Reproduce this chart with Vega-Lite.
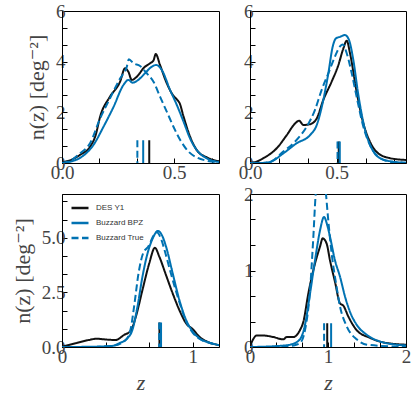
{
  "$schema": "https://vega.github.io/schema/vega-lite/v6.json",
  "padding": {"left": 10, "top": 1, "right": 0, "bottom": 0},
  "columns": 2,
  "spacing": 31,
  "bounds": "flush",
  "resolve": {"scale": {"color": "independent", "strokeDash": "independent", "x": "independent", "y": "independent"}},
  "datasets": {
    "curves": [
      {"panel":"a","series":"DES Y1","z":0,"n":0.03},{"panel":"a","series":"DES Y1","z":0.04,"n":0.12},{"panel":"a","series":"DES Y1","z":0.08,"n":0.32},{"panel":"a","series":"DES Y1","z":0.125,"n":0.64},{"panel":"a","series":"DES Y1","z":0.15,"n":1.1},{"panel":"a","series":"DES Y1","z":0.17,"n":1.83},{"panel":"a","series":"DES Y1","z":0.214,"n":2.62},{"panel":"a","series":"DES Y1","z":0.259,"n":3.21},{"panel":"a","series":"DES Y1","z":0.281,"n":3.74},{"panel":"a","series":"DES Y1","z":0.296,"n":3.6},{"panel":"a","series":"DES Y1","z":0.311,"n":3.28},{"panel":"a","series":"DES Y1","z":0.34,"n":3.47},{"panel":"a","series":"DES Y1","z":0.363,"n":3.74},{"panel":"a","series":"DES Y1","z":0.393,"n":3.94},{"panel":"a","series":"DES Y1","z":0.408,"n":4.05},{"panel":"a","series":"DES Y1","z":0.418,"n":4.3},{"panel":"a","series":"DES Y1","z":0.437,"n":3.87},{"panel":"a","series":"DES Y1","z":0.467,"n":3.15},{"panel":"a","series":"DES Y1","z":0.497,"n":2.65},{"panel":"a","series":"DES Y1","z":0.512,"n":2.51},{"panel":"a","series":"DES Y1","z":0.525,"n":2.35},{"panel":"a","series":"DES Y1","z":0.542,"n":1.83},{"panel":"a","series":"DES Y1","z":0.571,"n":1.04},{"panel":"a","series":"DES Y1","z":0.601,"n":0.51},{"panel":"a","series":"DES Y1","z":0.646,"n":0.22},{"panel":"a","series":"DES Y1","z":0.7,"n":0.07},
      {"panel":"a","series":"Buzzard BPZ","z":0,"n":0},{"panel":"a","series":"Buzzard BPZ","z":0.04,"n":0.06},{"panel":"a","series":"Buzzard BPZ","z":0.08,"n":0.2},{"panel":"a","series":"Buzzard BPZ","z":0.14,"n":0.71},{"panel":"a","series":"Buzzard BPZ","z":0.185,"n":1.43},{"panel":"a","series":"Buzzard BPZ","z":0.229,"n":2.2},{"panel":"a","series":"Buzzard BPZ","z":0.274,"n":3.08},{"panel":"a","series":"Buzzard BPZ","z":0.296,"n":3.28},{"panel":"a","series":"Buzzard BPZ","z":0.315,"n":3.17},{"panel":"a","series":"Buzzard BPZ","z":0.34,"n":3.28},{"panel":"a","series":"Buzzard BPZ","z":0.37,"n":3.54},{"panel":"a","series":"Buzzard BPZ","z":0.4,"n":3.8},{"panel":"a","series":"Buzzard BPZ","z":0.42,"n":3.87},{"panel":"a","series":"Buzzard BPZ","z":0.445,"n":3.67},{"panel":"a","series":"Buzzard BPZ","z":0.482,"n":2.88},{"panel":"a","series":"Buzzard BPZ","z":0.512,"n":2.29},{"panel":"a","series":"Buzzard BPZ","z":0.542,"n":1.63},{"panel":"a","series":"Buzzard BPZ","z":0.571,"n":0.97},{"panel":"a","series":"Buzzard BPZ","z":0.601,"n":0.51},{"panel":"a","series":"Buzzard BPZ","z":0.646,"n":0.18},{"panel":"a","series":"Buzzard BPZ","z":0.7,"n":0.04},
      {"panel":"a","series":"Buzzard True","z":0,"n":0},{"panel":"a","series":"Buzzard True","z":0.04,"n":0.1},{"panel":"a","series":"Buzzard True","z":0.08,"n":0.38},{"panel":"a","series":"Buzzard True","z":0.125,"n":0.78},{"panel":"a","series":"Buzzard True","z":0.17,"n":1.76},{"panel":"a","series":"Buzzard True","z":0.214,"n":2.55},{"panel":"a","series":"Buzzard True","z":0.259,"n":3.34},{"panel":"a","series":"Buzzard True","z":0.289,"n":3.8},{"panel":"a","series":"Buzzard True","z":0.298,"n":4.1},{"panel":"a","series":"Buzzard True","z":0.318,"n":3.94},{"panel":"a","series":"Buzzard True","z":0.348,"n":3.83},{"panel":"a","series":"Buzzard True","z":0.378,"n":3.54},{"panel":"a","series":"Buzzard True","z":0.408,"n":3.21},{"panel":"a","series":"Buzzard True","z":0.437,"n":2.62},{"panel":"a","series":"Buzzard True","z":0.467,"n":2.03},{"panel":"a","series":"Buzzard True","z":0.497,"n":1.43},{"panel":"a","series":"Buzzard True","z":0.527,"n":0.91},{"panel":"a","series":"Buzzard True","z":0.564,"n":0.45},{"panel":"a","series":"Buzzard True","z":0.601,"n":0.22},{"panel":"a","series":"Buzzard True","z":0.646,"n":0.09},{"panel":"a","series":"Buzzard True","z":0.7,"n":0.02},

      {"panel":"b","series":"DES Y1","z":0,"n":0},{"panel":"b","series":"DES Y1","z":0.04,"n":0.06},{"panel":"b","series":"DES Y1","z":0.077,"n":0.19},{"panel":"b","series":"DES Y1","z":0.154,"n":0.58},{"panel":"b","series":"DES Y1","z":0.212,"n":1.1},{"panel":"b","series":"DES Y1","z":0.26,"n":1.56},{"panel":"b","series":"DES Y1","z":0.283,"n":1.67},{"panel":"b","series":"DES Y1","z":0.308,"n":1.5},{"panel":"b","series":"DES Y1","z":0.346,"n":1.53},{"panel":"b","series":"DES Y1","z":0.385,"n":1.76},{"panel":"b","series":"DES Y1","z":0.423,"n":2.49},{"panel":"b","series":"DES Y1","z":0.471,"n":3.21},{"panel":"b","series":"DES Y1","z":0.51,"n":3.87},{"panel":"b","series":"DES Y1","z":0.539,"n":4.53},{"panel":"b","series":"DES Y1","z":0.558,"n":4.83},{"panel":"b","series":"DES Y1","z":0.577,"n":4.33},{"panel":"b","series":"DES Y1","z":0.615,"n":2.82},{"panel":"b","series":"DES Y1","z":0.654,"n":1.56},{"panel":"b","series":"DES Y1","z":0.692,"n":0.84},{"panel":"b","series":"DES Y1","z":0.74,"n":0.38},{"panel":"b","series":"DES Y1","z":0.808,"n":0.19},{"panel":"b","series":"DES Y1","z":0.9,"n":0.12},
      {"panel":"b","series":"Buzzard BPZ","z":0,"n":0},{"panel":"b","series":"Buzzard BPZ","z":0.06,"n":0},{"panel":"b","series":"Buzzard BPZ","z":0.115,"n":0.04},{"panel":"b","series":"Buzzard BPZ","z":0.192,"n":0.38},{"panel":"b","series":"Buzzard BPZ","z":0.269,"n":0.78},{"panel":"b","series":"Buzzard BPZ","z":0.346,"n":1.1},{"panel":"b","series":"Buzzard BPZ","z":0.385,"n":1.5},{"panel":"b","series":"Buzzard BPZ","z":0.423,"n":2.49},{"panel":"b","series":"Buzzard BPZ","z":0.452,"n":3.54},{"panel":"b","series":"Buzzard BPZ","z":0.477,"n":4.59},{"panel":"b","series":"Buzzard BPZ","z":0.496,"n":4.92},{"panel":"b","series":"Buzzard BPZ","z":0.519,"n":4.98},{"panel":"b","series":"Buzzard BPZ","z":0.548,"n":5.05},{"panel":"b","series":"Buzzard BPZ","z":0.571,"n":4.86},{"panel":"b","series":"Buzzard BPZ","z":0.596,"n":4.07},{"panel":"b","series":"Buzzard BPZ","z":0.625,"n":2.69},{"panel":"b","series":"Buzzard BPZ","z":0.664,"n":1.3},{"panel":"b","series":"Buzzard BPZ","z":0.702,"n":0.58},{"panel":"b","series":"Buzzard BPZ","z":0.75,"n":0.19},{"panel":"b","series":"Buzzard BPZ","z":0.827,"n":0.05},{"panel":"b","series":"Buzzard BPZ","z":0.9,"n":0.01},
      {"panel":"b","series":"Buzzard True","z":0,"n":0},{"panel":"b","series":"Buzzard True","z":0.06,"n":0},{"panel":"b","series":"Buzzard True","z":0.115,"n":0.04},{"panel":"b","series":"Buzzard True","z":0.192,"n":0.45},{"panel":"b","series":"Buzzard True","z":0.269,"n":0.91},{"panel":"b","series":"Buzzard True","z":0.327,"n":1.43},{"panel":"b","series":"Buzzard True","z":0.375,"n":2.1},{"panel":"b","series":"Buzzard True","z":0.413,"n":2.88},{"panel":"b","series":"Buzzard True","z":0.452,"n":3.54},{"panel":"b","series":"Buzzard True","z":0.49,"n":4.2},{"panel":"b","series":"Buzzard True","z":0.519,"n":4.6},{"panel":"b","series":"Buzzard True","z":0.535,"n":4.68},{"panel":"b","series":"Buzzard True","z":0.558,"n":4.33},{"panel":"b","series":"Buzzard True","z":0.587,"n":3.54},{"panel":"b","series":"Buzzard True","z":0.615,"n":2.62},{"panel":"b","series":"Buzzard True","z":0.654,"n":1.43},{"panel":"b","series":"Buzzard True","z":0.692,"n":0.71},{"panel":"b","series":"Buzzard True","z":0.74,"n":0.25},{"panel":"b","series":"Buzzard True","z":0.808,"n":0.05},{"panel":"b","series":"Buzzard True","z":0.9,"n":0.01},

      {"panel":"c","series":"DES Y1","z":0,"n":0.01},{"panel":"c","series":"DES Y1","z":0.103,"n":0.17},{"panel":"c","series":"DES Y1","z":0.205,"n":0.32},{"panel":"c","series":"DES Y1","z":0.269,"n":0.38},{"panel":"c","series":"DES Y1","z":0.32,"n":0.35},{"panel":"c","series":"DES Y1","z":0.41,"n":0.32},{"panel":"c","series":"DES Y1","z":0.474,"n":0.55},{"panel":"c","series":"DES Y1","z":0.526,"n":0.75},{"panel":"c","series":"DES Y1","z":0.564,"n":1.38},{"panel":"c","series":"DES Y1","z":0.615,"n":2.61},{"panel":"c","series":"DES Y1","z":0.667,"n":3.83},{"panel":"c","series":"DES Y1","z":0.71,"n":4.54},{"panel":"c","series":"DES Y1","z":0.744,"n":4.13},{"panel":"c","series":"DES Y1","z":0.795,"n":3.29},{"panel":"c","series":"DES Y1","z":0.846,"n":2.45},{"panel":"c","series":"DES Y1","z":0.897,"n":1.69},{"panel":"c","series":"DES Y1","z":0.949,"n":1.08},{"panel":"c","series":"DES Y1","z":1.0,"n":0.81},{"panel":"c","series":"DES Y1","z":1.05,"n":0.47},{"panel":"c","series":"DES Y1","z":1.128,"n":0.2},{"panel":"c","series":"DES Y1","z":1.2,"n":0.09},
      {"panel":"c","series":"Buzzard BPZ","z":0,"n":0},{"panel":"c","series":"Buzzard BPZ","z":0.2,"n":0.01},{"panel":"c","series":"Buzzard BPZ","z":0.385,"n":0.05},{"panel":"c","series":"Buzzard BPZ","z":0.436,"n":0.17},{"panel":"c","series":"Buzzard BPZ","z":0.5,"n":0.4},{"panel":"c","series":"Buzzard BPZ","z":0.538,"n":0.78},{"panel":"c","series":"Buzzard BPZ","z":0.577,"n":1.85},{"panel":"c","series":"Buzzard BPZ","z":0.615,"n":3.22},{"panel":"c","series":"Buzzard BPZ","z":0.654,"n":4.29},{"panel":"c","series":"Buzzard BPZ","z":0.692,"n":4.95},{"panel":"c","series":"Buzzard BPZ","z":0.733,"n":5.31},{"panel":"c","series":"Buzzard BPZ","z":0.765,"n":5.1},{"panel":"c","series":"Buzzard BPZ","z":0.795,"n":4.6},{"panel":"c","series":"Buzzard BPZ","z":0.846,"n":3.37},{"panel":"c","series":"Buzzard BPZ","z":0.897,"n":2.15},{"panel":"c","series":"Buzzard BPZ","z":0.949,"n":1.23},{"panel":"c","series":"Buzzard BPZ","z":1.0,"n":0.7},{"panel":"c","series":"Buzzard BPZ","z":1.05,"n":0.4},{"panel":"c","series":"Buzzard BPZ","z":1.128,"n":0.2},{"panel":"c","series":"Buzzard BPZ","z":1.2,"n":0.09},
      {"panel":"c","series":"Buzzard True","z":0,"n":0},{"panel":"c","series":"Buzzard True","z":0.2,"n":0},{"panel":"c","series":"Buzzard True","z":0.385,"n":0.05},{"panel":"c","series":"Buzzard True","z":0.487,"n":0.32},{"panel":"c","series":"Buzzard True","z":0.526,"n":0.86},{"panel":"c","series":"Buzzard True","z":0.551,"n":1.85},{"panel":"c","series":"Buzzard True","z":0.585,"n":3.37},{"panel":"c","series":"Buzzard True","z":0.62,"n":4.29},{"panel":"c","series":"Buzzard True","z":0.66,"n":4.6},{"panel":"c","series":"Buzzard True","z":0.7,"n":5.1},{"panel":"c","series":"Buzzard True","z":0.725,"n":5.25},{"panel":"c","series":"Buzzard True","z":0.76,"n":4.9},{"panel":"c","series":"Buzzard True","z":0.79,"n":4.3},{"panel":"c","series":"Buzzard True","z":0.84,"n":3.2},{"panel":"c","series":"Buzzard True","z":0.9,"n":2.0},{"panel":"c","series":"Buzzard True","z":0.95,"n":1.15},{"panel":"c","series":"Buzzard True","z":1.0,"n":0.65},{"panel":"c","series":"Buzzard True","z":1.05,"n":0.38},{"panel":"c","series":"Buzzard True","z":1.13,"n":0.18},{"panel":"c","series":"Buzzard True","z":1.2,"n":0.08},

      {"panel":"d","series":"DES Y1","z":0,"n":0.01},{"panel":"d","series":"DES Y1","z":0.04,"n":0.1},{"panel":"d","series":"DES Y1","z":0.085,"n":0.15},{"panel":"d","series":"DES Y1","z":0.17,"n":0.15},{"panel":"d","series":"DES Y1","z":0.3,"n":0.13},{"panel":"d","series":"DES Y1","z":0.427,"n":0.1},{"panel":"d","series":"DES Y1","z":0.47,"n":0.13},{"panel":"d","series":"DES Y1","z":0.555,"n":0.13},{"panel":"d","series":"DES Y1","z":0.64,"n":0.22},{"panel":"d","series":"DES Y1","z":0.684,"n":0.33},{"panel":"d","series":"DES Y1","z":0.748,"n":0.7},{"panel":"d","series":"DES Y1","z":0.833,"n":1.09},{"panel":"d","series":"DES Y1","z":0.897,"n":1.31},{"panel":"d","series":"DES Y1","z":0.932,"n":1.42},{"panel":"d","series":"DES Y1","z":0.983,"n":1.35},{"panel":"d","series":"DES Y1","z":1.026,"n":1.13},{"panel":"d","series":"DES Y1","z":1.09,"n":0.85},{"panel":"d","series":"DES Y1","z":1.154,"n":0.57},{"panel":"d","series":"DES Y1","z":1.197,"n":0.54},{"panel":"d","series":"DES Y1","z":1.26,"n":0.4},{"panel":"d","series":"DES Y1","z":1.368,"n":0.22},{"panel":"d","series":"DES Y1","z":1.538,"n":0.12},{"panel":"d","series":"DES Y1","z":1.71,"n":0.06},{"panel":"d","series":"DES Y1","z":2.0,"n":0.03},
      {"panel":"d","series":"Buzzard BPZ","z":0,"n":0},{"panel":"d","series":"Buzzard BPZ","z":0.3,"n":0.01},{"panel":"d","series":"Buzzard BPZ","z":0.513,"n":0.03},{"panel":"d","series":"Buzzard BPZ","z":0.64,"n":0.1},{"panel":"d","series":"Buzzard BPZ","z":0.705,"n":0.29},{"panel":"d","series":"Buzzard BPZ","z":0.77,"n":0.7},{"panel":"d","series":"Buzzard BPZ","z":0.833,"n":1.13},{"panel":"d","series":"Buzzard BPZ","z":0.897,"n":1.52},{"panel":"d","series":"Buzzard BPZ","z":0.949,"n":1.7},{"panel":"d","series":"Buzzard BPZ","z":0.991,"n":1.59},{"panel":"d","series":"Buzzard BPZ","z":1.026,"n":1.44},{"panel":"d","series":"Buzzard BPZ","z":1.09,"n":1.13},{"panel":"d","series":"Buzzard BPZ","z":1.154,"n":0.92},{"panel":"d","series":"Buzzard BPZ","z":1.218,"n":0.66},{"panel":"d","series":"Buzzard BPZ","z":1.282,"n":0.46},{"panel":"d","series":"Buzzard BPZ","z":1.368,"n":0.29},{"panel":"d","series":"Buzzard BPZ","z":1.496,"n":0.16},{"panel":"d","series":"Buzzard BPZ","z":1.71,"n":0.06},{"panel":"d","series":"Buzzard BPZ","z":2.0,"n":0.02},
      {"panel":"d","series":"Buzzard True","z":0,"n":0},{"panel":"d","series":"Buzzard True","z":0.4,"n":0},{"panel":"d","series":"Buzzard True","z":0.555,"n":0.02},{"panel":"d","series":"Buzzard True","z":0.64,"n":0.05},{"panel":"d","series":"Buzzard True","z":0.705,"n":0.22},{"panel":"d","series":"Buzzard True","z":0.77,"n":0.75},{"panel":"d","series":"Buzzard True","z":0.81,"n":1.4},{"panel":"d","series":"Buzzard True","z":0.842,"n":2.0},{"panel":"d","series":"Buzzard True","z":0.875,"n":2.3},{"panel":"d","series":"Buzzard True","z":0.91,"n":2.4},{"panel":"d","series":"Buzzard True","z":0.945,"n":2.3},{"panel":"d","series":"Buzzard True","z":0.974,"n":2.0},{"panel":"d","series":"Buzzard True","z":1.004,"n":1.65},{"panel":"d","series":"Buzzard True","z":1.047,"n":1.22},{"panel":"d","series":"Buzzard True","z":1.103,"n":0.83},{"panel":"d","series":"Buzzard True","z":1.154,"n":0.53},{"panel":"d","series":"Buzzard True","z":1.24,"n":0.27},{"panel":"d","series":"Buzzard True","z":1.368,"n":0.1},{"panel":"d","series":"Buzzard True","z":1.5,"n":0.03},{"panel":"d","series":"Buzzard True","z":2.0,"n":0}
    ],
    "means": [
      {"panel":"a","series":"DES Y1","z":0.389,"n":0.9},{"panel":"a","series":"Buzzard BPZ","z":0.362,"n":0.9},{"panel":"a","series":"Buzzard True","z":0.336,"n":0.9},
      {"panel":"b","series":"DES Y1","z":0.512,"n":0.85},{"panel":"b","series":"Buzzard BPZ","z":0.518,"n":0.85},{"panel":"b","series":"Buzzard True","z":0.505,"n":0.85},
      {"panel":"c","series":"DES Y1","z":0.745,"n":1.12},{"panel":"c","series":"Buzzard BPZ","z":0.757,"n":1.12},{"panel":"c","series":"Buzzard True","z":0.743,"n":1.12},
      {"panel":"d","series":"DES Y1","z":0.99,"n":0.31},{"panel":"d","series":"Buzzard BPZ","z":1.04,"n":0.31},{"panel":"d","series":"Buzzard True","z":0.95,"n":0.31}
    ]
  },
  "concat": [
    {
      "width": 157, "height": 152,
      "encoding": {
        "x": {"field": "z", "type": "quantitative", "scale": {"domain": [0, 0.7], "nice": false},
              "axis": {"title": null, "values": [0, 0.16667, 0.33333, 0.5, 0.66667], "labelExpr": "abs(datum.value) < 0.001 ? '0.0' : (abs(datum.value - 0.5) < 0.001 ? '0.5' : '')"}},
        "y": {"field": "n", "type": "quantitative", "scale": {"domain": [0, 6], "nice": false},
              "axis": {"title": "n(z) [deg⁻²]", "values": [0, 0.66667, 1.33333, 2, 2.66667, 3.33333, 4, 4.66667, 5.33333, 6], "labelExpr": "indexof([0, 2, 4, 6], datum.value) >= 0 ? format(datum.value, 'd') : ''"}},
        "color": {"field": "series", "type": "nominal", "scale": {"domain": ["DES Y1", "Buzzard BPZ", "Buzzard True"], "range": ["#111111", "#0072b2", "#0072b2"]}, "legend": null},
        "strokeDash": {"field": "series", "type": "nominal", "scale": {"domain": ["DES Y1", "Buzzard BPZ", "Buzzard True"], "range": [[1, 0], [1, 0], [7, 3.5]]}, "legend": null}
      },
      "layer": [
        {
          "data": {"name": "curves"},
          "transform": [{"filter": "datum.panel == 'a'"}],
          "mark": {"type": "line", "strokeWidth": 2, "interpolate": "monotone", "clip": true}
        },
        {
          "data": {"name": "means"},
          "transform": [{"filter": "datum.panel == 'a'"}],
          "mark": {"type": "rule", "strokeWidth": 2},
          "encoding": {"y2": {"datum": 0}}
        }
      ]
    },
    {
      "width": 156, "height": 152,
      "encoding": {
        "x": {"field": "z", "type": "quantitative", "scale": {"domain": [0, 0.9], "nice": false},
              "axis": {"title": null, "values": [0, 0.16667, 0.33333, 0.5, 0.66667, 0.83333], "labelExpr": "abs(datum.value) < 0.001 ? '0.0' : (abs(datum.value - 0.5) < 0.001 ? '0.5' : '')"}},
        "y": {"field": "n", "type": "quantitative", "scale": {"domain": [0, 6], "nice": false},
              "axis": {"title": null, "values": [0, 0.66667, 1.33333, 2, 2.66667, 3.33333, 4, 4.66667, 5.33333, 6], "labelExpr": "indexof([0, 2, 4, 6], datum.value) >= 0 ? format(datum.value, 'd') : ''"}},
        "color": {"field": "series", "type": "nominal", "scale": {"domain": ["DES Y1", "Buzzard BPZ", "Buzzard True"], "range": ["#111111", "#0072b2", "#0072b2"]}, "legend": null},
        "strokeDash": {"field": "series", "type": "nominal", "scale": {"domain": ["DES Y1", "Buzzard BPZ", "Buzzard True"], "range": [[1, 0], [1, 0], [7, 3.5]]}, "legend": null}
      },
      "layer": [
        {
          "data": {"name": "curves"},
          "transform": [{"filter": "datum.panel == 'b'"}],
          "mark": {"type": "line", "strokeWidth": 2, "interpolate": "monotone", "clip": true}
        },
        {
          "data": {"name": "means"},
          "transform": [{"filter": "datum.panel == 'b'"}],
          "mark": {"type": "rule", "strokeWidth": 2},
          "encoding": {"y2": {"datum": 0}}
        }
      ]
    },
    {
      "width": 157, "height": 153,
      "encoding": {
        "x": {"field": "z", "type": "quantitative", "scale": {"domain": [0, 1.2], "nice": false},
              "axis": {"title": "z", "values": [0, 0.33333, 0.66667, 1], "labelExpr": "indexof([0, 1], datum.value) >= 0 ? format(datum.value, 'd') : ''"}},
        "y": {"field": "n", "type": "quantitative", "scale": {"domain": [0, 7], "nice": false},
              "axis": {"title": "n(z) [deg⁻²]", "values": [0, 0.83333, 1.66667, 2.5, 3.33333, 4.16667, 5, 5.83333, 6.66667], "labelExpr": "indexof([0, 2.5, 5], datum.value) >= 0 ? format(datum.value, '.1f') : ''"}},
        "color": {"field": "series", "type": "nominal", "scale": {"domain": ["DES Y1", "Buzzard BPZ", "Buzzard True"], "range": ["#111111", "#0072b2", "#0072b2"]},
                  "legend": {"title": null, "orient": "top-left", "offset": 2, "padding": 2, "symbolType": "stroke", "symbolSize": 289, "symbolStrokeWidth": 2.5, "symbolOffset": 4, "labelFont": "Liberation Sans", "labelFontSize": 8, "labelColor": "#333333", "rowPadding": -5, "labelOffset": 6}},
        "strokeDash": {"field": "series", "type": "nominal", "scale": {"domain": ["DES Y1", "Buzzard BPZ", "Buzzard True"], "range": [[1, 0], [1, 0], [7, 3.5]]},
                  "legend": {"title": null, "orient": "top-left", "offset": 2, "padding": 2, "symbolType": "stroke", "symbolSize": 289, "symbolStrokeWidth": 2.5, "symbolOffset": 4, "labelFont": "Liberation Sans", "labelFontSize": 8, "labelColor": "#333333", "rowPadding": -5, "labelOffset": 6}}
      },
      "layer": [
        {
          "data": {"name": "curves"},
          "transform": [{"filter": "datum.panel == 'c'"}],
          "mark": {"type": "line", "strokeWidth": 2, "interpolate": "monotone", "clip": true}
        },
        {
          "data": {"name": "means"},
          "transform": [{"filter": "datum.panel == 'c'"}],
          "mark": {"type": "rule", "strokeWidth": 2},
          "encoding": {"y2": {"datum": 0}}
        }
      ]
    },
    {
      "width": 156, "height": 153,
      "encoding": {
        "x": {"field": "z", "type": "quantitative", "scale": {"domain": [0, 2], "nice": false},
              "axis": {"title": "z", "values": [0, 0.33333, 0.66667, 1, 1.33333, 1.66667, 2], "labelExpr": "indexof([0, 1, 2], datum.value) >= 0 ? format(datum.value, 'd') : ''"}},
        "y": {"field": "n", "type": "quantitative", "scale": {"domain": [0, 2], "nice": false},
              "axis": {"title": null, "values": [0, 0.33333, 0.66667, 1, 1.33333, 1.66667, 2], "labelExpr": "indexof([0, 1, 2], datum.value) >= 0 ? format(datum.value, 'd') : ''"}},
        "color": {"field": "series", "type": "nominal", "scale": {"domain": ["DES Y1", "Buzzard BPZ", "Buzzard True"], "range": ["#111111", "#0072b2", "#0072b2"]}, "legend": null},
        "strokeDash": {"field": "series", "type": "nominal", "scale": {"domain": ["DES Y1", "Buzzard BPZ", "Buzzard True"], "range": [[1, 0], [1, 0], [7, 3.5]]}, "legend": null}
      },
      "layer": [
        {
          "data": {"name": "curves"},
          "transform": [{"filter": "datum.panel == 'd'"}],
          "mark": {"type": "line", "strokeWidth": 2, "interpolate": "monotone", "clip": true}
        },
        {
          "data": {"name": "means"},
          "transform": [{"filter": "datum.panel == 'd'"}],
          "mark": {"type": "rule", "strokeWidth": 2},
          "encoding": {"y2": {"datum": 0}}
        }
      ]
    }
  ],
  "config": {
    "view": {"stroke": "#000000", "strokeWidth": 1},
    "axis": {
      "grid": false, "domainColor": "#000000", "domainWidth": 1,
      "tickColor": "#000000", "tickSize": -5, "tickWidth": 1,
      "labelFont": "Liberation Serif", "labelFontSize": 19, "labelColor": "#444444",
      "labelPadding": 2, "labelFlush": false, "labelOverlap": false, "labelBound": false,
      "titleFont": "Liberation Serif, DejaVu Serif", "titleFontSize": 22, "titleFontWeight": "normal", "titleColor": "#444444"
    },
    "axisX": {"titleFontStyle": "italic", "titlePadding": 6, "labelPadding": 5},
    "axisY": {"titlePadding": 7}
  }
}
